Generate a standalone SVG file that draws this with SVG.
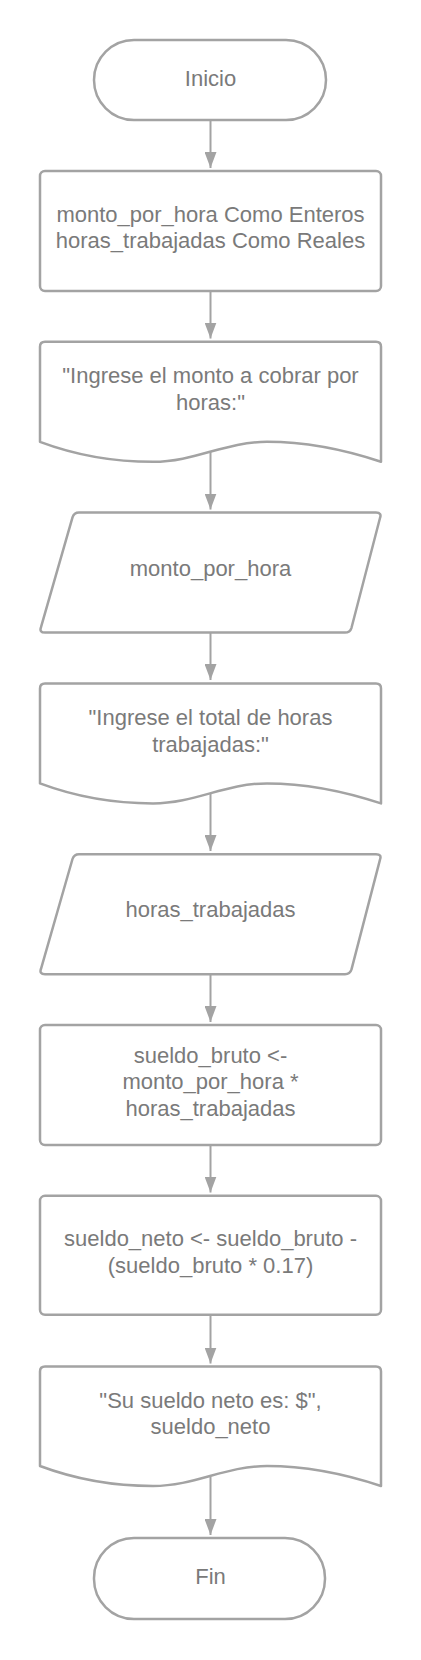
<svg xmlns="http://www.w3.org/2000/svg" width="421" height="1660" viewBox="0 0 421 1660">
<style>
.shape{fill:#ffffff;stroke:#a3a3a3;stroke-width:2.5;stroke-linejoin:round}
.lbl{font-family:"Liberation Sans",Arial,sans-serif;font-size:22px;fill:#7a7a7a;text-anchor:middle}
.conn{stroke:#a3a3a3;stroke-width:2;fill:none}
</style>
<defs>
<marker id="arr" markerWidth="16" markerHeight="12" refX="16" refY="6" orient="auto" markerUnits="userSpaceOnUse" viewBox="0 0 16 12">
<path d="M0,0 L16,6 L0,12 Z" fill="#a3a3a3"/>
</marker>
</defs>
<rect width="421" height="1660" fill="#ffffff"/>

<g id="connectors">
<line class="conn" x1="210.5" y1="121" x2="210.5" y2="168" marker-end="url(#arr)"/>
<line class="conn" x1="210.5" y1="292" x2="210.5" y2="338.5" marker-end="url(#arr)"/>
<line class="conn" x1="210.5" y1="452" x2="210.5" y2="509.5" marker-end="url(#arr)"/>
<line class="conn" x1="210.5" y1="633" x2="210.5" y2="680" marker-end="url(#arr)"/>
<line class="conn" x1="210.5" y1="794" x2="210.5" y2="851" marker-end="url(#arr)"/>
<line class="conn" x1="210.5" y1="975" x2="210.5" y2="1022" marker-end="url(#arr)"/>
<line class="conn" x1="210.5" y1="1145" x2="210.5" y2="1192.5" marker-end="url(#arr)"/>
<line class="conn" x1="210.5" y1="1316" x2="210.5" y2="1363.5" marker-end="url(#arr)"/>
<line class="conn" x1="210.5" y1="1477" x2="210.5" y2="1535" marker-end="url(#arr)"/>
</g>

<g id="inicio">
<rect class="shape" x="94" y="40" width="232" height="80" rx="40" ry="40"/>
<text class="lbl" x="210.5" y="85.5">Inicio</text>
</g>

<g id="declaraciones">
<rect class="shape" x="40" y="171" width="341" height="120" rx="5" ry="5"/>
<text class="lbl" x="210.5" y="221.7">monto_por_hora Como Enteros</text>
<text class="lbl" x="210.5" y="248.3">horas_trabajadas Como Reales</text>
</g>

<g id="mensaje1">
<path class="shape" d="M40,346.8 Q40,341.8 45,341.8 L376,341.8 Q381,341.8 381,346.8 L381,461.8 C345,449.8 305,441.8 267,441.8 C225,441.8 195,461.8 153,461.8 C120,461.8 80,456.8 40,441.8 Z"/>
<text class="lbl" x="210.5" y="383.4">"Ingrese el monto a cobrar por</text>
<text class="lbl" x="210.5" y="410.1">horas:"</text>
</g>

<g id="leer1">
<path class="shape" d="M72.5,517.4 Q74,512.6 79,512.6 L376,512.6 Q382,512.6 380,518 L351.5,627.8 Q350,632.6 345,632.6 L45,632.6 Q39,632.6 41,627.2 Z"/>
<text class="lbl" x="210.5" y="575.6">monto_por_hora</text>
</g>

<g id="mensaje2">
<path class="shape" d="M40,688.4 Q40,683.4 45,683.4 L376,683.4 Q381,683.4 381,688.4 L381,803.4 C345,791.4 305,783.4 267,783.4 C225,783.4 195,803.4 153,803.4 C120,803.4 80,798.4 40,783.4 Z"/>
<text class="lbl" x="210.5" y="725">"Ingrese el total de horas</text>
<text class="lbl" x="210.5" y="751.7">trabajadas:"</text>
</g>

<g id="leer2">
<path class="shape" d="M72.5,859 Q74,854.2 79,854.2 L376,854.2 Q382,854.2 380,859.6 L351.5,969.4 Q350,974.2 345,974.2 L45,974.2 Q39,974.2 41,968.8 Z"/>
<text class="lbl" x="210.5" y="917.3">horas_trabajadas</text>
</g>

<g id="calculo1">
<rect class="shape" x="40" y="1025" width="341" height="120" rx="5" ry="5"/>
<text class="lbl" x="210.5" y="1062.7">sueldo_bruto &lt;-</text>
<text class="lbl" x="210.5" y="1089.3">monto_por_hora *</text>
<text class="lbl" x="210.5" y="1115.5">horas_trabajadas</text>
</g>

<g id="calculo2">
<rect class="shape" x="40" y="1195.8" width="341" height="119" rx="5" ry="5"/>
<text class="lbl" x="210.5" y="1246.2">sueldo_neto &lt;- sueldo_bruto -</text>
<text class="lbl" x="210.5" y="1272.9">(sueldo_bruto * 0.17)</text>
</g>

<g id="salida">
<path class="shape" d="M40,1371.6 Q40,1366.6 45,1366.6 L376,1366.6 Q381,1366.6 381,1371.6 L381,1486 C345,1474 305,1466 267,1466 C225,1466 195,1486 153,1486 C120,1486 80,1481 40,1466 Z"/>
<text class="lbl" x="210.5" y="1407.8">"Su sueldo neto es: $",</text>
<text class="lbl" x="210.5" y="1434.3">sueldo_neto</text>
</g>

<g id="fin">
<rect class="shape" x="94" y="1538" width="231" height="81" rx="40" ry="40"/>
<text class="lbl" x="210.5" y="1583.5">Fin</text>
</g>
</svg>
